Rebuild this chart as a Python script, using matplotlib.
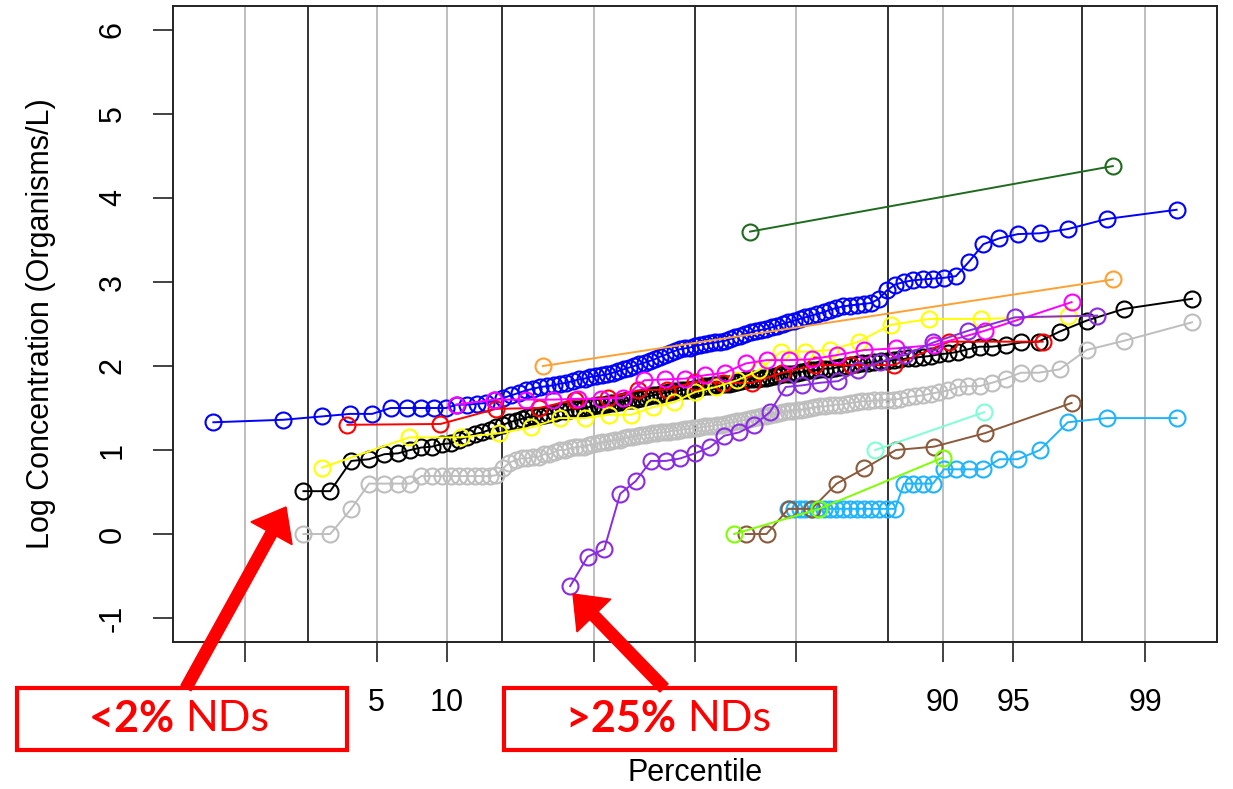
import numpy as np
import matplotlib.pyplot as plt
from matplotlib.patches import Rectangle, FancyArrow
from statistics import NormalDist

# Percentile plotting positions (%) and log10 concentrations
pct_122 = [2.15, 2.97, 3.78, 4.60, 5.42, 6.24, 7.06, 7.87, 8.69, 9.51,
           10.33, 11.15, 11.97, 12.78, 13.60, 14.42, 15.24, 16.06, 16.87, 17.69,
           18.51, 19.33, 20.14, 20.96, 21.78, 22.60, 23.42, 24.23, 25.05, 25.87,
           26.69, 27.51, 28.32, 29.14, 29.96, 30.78, 31.60, 32.41, 33.23, 34.05,
           34.87, 35.69, 36.50, 37.32, 38.14, 38.96, 39.78, 40.59, 41.41, 42.23,
           43.05, 43.87, 44.68, 45.50, 46.32, 47.14, 47.96, 48.77, 49.59, 50.41,
           51.23, 52.04, 52.86, 53.68, 54.50, 55.32, 56.13, 56.95, 57.77, 58.59,
           59.41, 60.22, 61.04, 61.86, 62.68, 63.50, 64.31, 65.13, 65.95, 66.77,
           67.59, 68.40, 69.22, 70.04, 70.86, 71.68, 72.49, 73.31, 74.13, 74.95,
           75.77, 76.58, 77.40, 78.22, 79.04, 79.86, 80.67, 81.49, 82.31, 83.13,
           83.94, 84.76, 85.58, 86.40, 87.22, 88.03, 88.85, 89.67, 90.49, 91.31,
           92.12, 92.94, 93.76, 94.58, 95.40, 96.21, 97.03, 97.85, 98.67, 99.49]

black_vals = [0.51, 0.51, 0.87, 0.89, 0.95, 0.96, 1.00, 1.03, 1.04, 1.07,
              1.08, 1.12, 1.16, 1.19, 1.21, 1.24, 1.27, 1.30, 1.33, 1.35,
              1.37, 1.39, 1.40, 1.41, 1.42, 1.43, 1.44, 1.46, 1.47, 1.48,
              1.49, 1.49, 1.50, 1.51, 1.52, 1.53, 1.54, 1.55, 1.56, 1.56,
              1.57, 1.58, 1.59, 1.60, 1.61, 1.62, 1.63, 1.64, 1.65, 1.66,
              1.67, 1.68, 1.69, 1.70, 1.70, 1.71, 1.72, 1.72, 1.73, 1.74,
              1.75, 1.76, 1.76, 1.77, 1.77, 1.78, 1.78, 1.79, 1.80, 1.81,
              1.82, 1.83, 1.84, 1.85, 1.85, 1.86, 1.86, 1.87, 1.88, 1.89,
              1.90, 1.91, 1.91, 1.92, 1.93, 1.94, 1.95, 1.95, 1.96, 1.97,
              1.97, 1.98, 1.99, 2.00, 2.01, 2.02, 2.03, 2.04, 2.05, 2.06,
              2.06, 2.07, 2.08, 2.09, 2.10, 2.11, 2.12, 2.14, 2.15, 2.17,
              2.20, 2.23, 2.23, 2.25, 2.28, 2.29, 2.41, 2.54, 2.68, 2.80]

gray_vals = [0.00, 0.00, 0.30, 0.60, 0.60, 0.60, 0.60, 0.69, 0.69, 0.69,
             0.69, 0.69, 0.69, 0.69, 0.69, 0.69, 0.70, 0.78, 0.85, 0.88,
             0.90, 0.90, 0.92, 0.92, 0.95, 0.95, 0.98, 1.00, 1.00, 1.02,
             1.03, 1.04, 1.04, 1.06, 1.07, 1.08, 1.09, 1.10, 1.11, 1.12,
             1.12, 1.14, 1.15, 1.16, 1.17, 1.18, 1.18, 1.19, 1.20, 1.20,
             1.21, 1.21, 1.22, 1.23, 1.23, 1.24, 1.25, 1.25, 1.26, 1.26,
             1.27, 1.28, 1.28, 1.29, 1.30, 1.30, 1.31, 1.32, 1.33, 1.34,
             1.35, 1.36, 1.37, 1.38, 1.39, 1.40, 1.41, 1.42, 1.43, 1.44,
             1.45, 1.46, 1.47, 1.48, 1.48, 1.49, 1.50, 1.51, 1.52, 1.52,
             1.53, 1.54, 1.54, 1.55, 1.56, 1.57, 1.58, 1.58, 1.59, 1.59,
             1.60, 1.60, 1.61, 1.63, 1.64, 1.65, 1.67, 1.69, 1.71, 1.75,
             1.76, 1.76, 1.80, 1.85, 1.92, 1.92, 1.96, 2.19, 2.30, 2.52]

blue_pct = [0.64, 1.67, 2.70, 3.73, 4.76, 5.78, 6.81, 7.84, 8.87, 9.90,
            10.93, 11.95, 12.98, 14.01, 15.04, 16.07, 17.10, 18.12, 19.15, 20.18,
            21.21, 22.24, 23.26, 24.29, 25.32, 26.35, 27.38, 28.41, 29.43, 30.46,
            31.49, 32.52, 33.55, 34.58, 35.60, 36.63, 37.66, 38.69, 39.72, 40.75,
            41.77, 42.80, 43.83, 44.86, 45.89, 46.92, 47.94, 48.97, 50.00, 51.03,
            52.06, 53.08, 54.11, 55.14, 56.17, 57.20, 58.23, 59.25, 60.28, 61.31,
            62.34, 63.37, 64.40, 65.42, 66.45, 67.48, 68.51, 69.54, 70.57, 71.59,
            72.62, 73.65, 74.68, 75.71, 76.74, 77.76, 78.79, 79.82, 80.85, 81.88,
            82.90, 83.93, 84.96, 85.99, 87.02, 88.05, 89.07, 90.10, 91.13, 92.16,
            93.19, 94.22, 95.24, 96.27, 97.30, 98.33, 99.36]

blue_vals = [1.33, 1.36, 1.40, 1.43, 1.43, 1.50, 1.50, 1.50, 1.50, 1.50,
             1.54, 1.54, 1.55, 1.56, 1.59, 1.62, 1.65, 1.68, 1.71, 1.73,
             1.75, 1.76, 1.77, 1.79, 1.80, 1.82, 1.84, 1.85, 1.87, 1.88,
             1.89, 1.90, 1.92, 1.94, 1.96, 1.98, 2.00, 2.02, 2.04, 2.06,
             2.08, 2.11, 2.13, 2.16, 2.18, 2.20, 2.21, 2.22, 2.24, 2.25,
             2.26, 2.27, 2.28, 2.29, 2.30, 2.32, 2.34, 2.36, 2.38, 2.40,
             2.42, 2.43, 2.44, 2.46, 2.48, 2.50, 2.52, 2.54, 2.56, 2.58,
             2.60, 2.62, 2.64, 2.67, 2.69, 2.71, 2.72, 2.73, 2.74, 2.75,
             2.80, 2.90, 2.97, 3.00, 3.02, 3.03, 3.04, 3.05, 3.07, 3.24,
             3.45, 3.52, 3.57, 3.58, 3.63, 3.75, 3.86]

# cyan sample shares the blue sample's plotting positions (upper ranks only)
cyan_pct = blue_pct[66:]
cyan_vals = [0.30] * 17 + [0.60] * 4 + [0.77] * 4 + [0.89, 0.89, 1.00, 1.33, 1.38, 1.38]

red_pct = [3.62, 9.42, 15.22, 21.01, 26.81, 32.61, 38.41, 44.20, 50.00,
           55.80, 61.59, 67.39, 73.19, 78.99, 84.78, 90.58, 96.38]
red_vals = [1.30, 1.31, 1.49, 1.50, 1.60, 1.62, 1.71, 1.72, 1.81,
            1.80, 1.80, 1.92, 2.01, 2.01, 2.01, 2.29, 2.29]

yellow_pct = [2.69, 6.99, 11.29, 15.59, 19.89, 24.19, 28.49, 32.80, 37.10, 41.40,
              45.70, 50.00, 54.30, 58.60, 62.90, 67.20, 71.51, 75.81, 80.11, 84.41,
              88.71, 93.01, 97.31]
yellow_vals = [0.79, 1.15, 1.15, 1.20, 1.27, 1.38, 1.38, 1.42, 1.42, 1.51,
               1.57, 1.69, 1.75, 1.83, 1.95, 2.17, 2.17, 2.19, 2.29, 2.49,
               2.56, 2.56, 2.59]

magenta_pct = [10.82, 14.95, 19.07, 23.20, 27.32, 31.44, 35.57, 39.69, 43.81, 47.94,
               52.06, 56.19, 60.31, 64.43, 68.56, 72.68, 76.80, 80.93, 85.05, 89.18,
               93.30, 97.42]
magenta_vals = [1.54, 1.60, 1.60, 1.60, 1.61, 1.61, 1.62, 1.83, 1.84, 1.85,
                1.89, 1.92, 2.03, 2.07, 2.07, 2.08, 2.13, 2.19, 2.21, 2.25,
                2.42, 2.76]

brown_pct = magenta_pct[12:]
brown_vals = [0.00, 0.00, 0.30, 0.30, 0.60, 0.78, 1.00, 1.04, 1.20, 1.56]

purple_pct = [25.94, 28.95, 31.95, 34.96, 37.97, 40.98, 43.98, 46.99, 50.00, 53.01,
              56.02, 59.02, 62.03, 65.04, 68.05, 71.05, 74.06, 77.07, 80.08, 83.08,
              86.09, 89.10, 92.11, 95.11, 98.12]
purple_vals = [-0.62, -0.27, -0.18, 0.48, 0.63, 0.87, 0.87, 0.90, 0.96, 1.03,
               1.17, 1.21, 1.30, 1.45, 1.75, 1.77, 1.80, 1.82, 1.95, 2.05,
               2.13, 2.28, 2.42, 2.58, 2.60]

orange_pct = [21.6, 98.46]
orange_vals = [2.00, 3.03]
darkgreen_pct = [61.2, 98.46]
darkgreen_vals = [3.60, 4.38]
chartreuse_pct = [58.0, 74.0, 90.0]
chartreuse_vals = [0.00, 0.30, 0.91]
aqua_pct = [82.43, 93.24]
aqua_vals = [1.00, 1.45]

tick_pct = [1, 5, 10, 30, 50, 70, 90, 95, 99]
tick_text = ['', '5', '10', '', '', '', '90', '95', '99']
grid_pct = [1, 5, 10, 30, 70, 90, 95, 99]
sd_z = [-2, -1, 0, 1, 2]

_nd = NormalDist()
_probit = np.vectorize(lambda p: _nd.inv_cdf(p / 100.0), otypes=[float])
_cdf = np.vectorize(lambda z: _nd.cdf(z) * 100.0, otypes=[float])


def pct_to_z(p):
    return _probit(np.clip(np.asarray(p, dtype=float), 1e-6, 100 - 1e-6))


def z_to_pct(z):
    return _cdf(np.asarray(z, dtype=float))


plt.rcParams['font.family'] = ['Liberation Sans', 'DejaVu Sans']

fig = plt.figure(figsize=(12.33, 7.89), dpi=100)
ax = fig.add_axes([0.1403, 0.1869, 0.8467, 0.8049])
ax.set_xscale('function', functions=(pct_to_z, z_to_pct))
ax.set_xlim(float(z_to_pct(-2.698)), float(z_to_pct(2.698)))
ax.set_ylim(-1.28, 6.28)

for p in grid_pct:
    ax.axvline(p, color='#bebebe', lw=1.4, zorder=1)
for z in sd_z:
    ax.axvline(float(z_to_pct(z)), color='#222222', lw=1.3, zorder=1)

series = [
    (gray_vals, pct_122, '#bebebe'),
    (black_vals, pct_122, 'black'),
    (blue_vals, blue_pct, '#0000ff'),
    (red_vals, red_pct, '#ff0000'),
    (yellow_vals, yellow_pct, '#ffff00'),
    (magenta_vals, magenta_pct, '#ff00ff'),
    (purple_vals, purple_pct, '#8a2be2'),
    (orange_vals, orange_pct, '#ffa033'),
    (darkgreen_vals, darkgreen_pct, '#1e6b1e'),
    (cyan_vals, cyan_pct, '#1eb4ff'),
    (brown_vals, brown_pct, '#8b5a3c'),
    (chartreuse_vals, chartreuse_pct, '#7fff00'),
    (aqua_vals, aqua_pct, '#7fffd4'),
]
for vals, pct, col in series:
    ax.plot(pct, vals, '-o', color=col, mfc='none', mec=col, ms=11.5, mew=1.5,
            lw=1.4, zorder=3)

ax.set_xticks(tick_pct)
ax.set_xticklabels(tick_text)
ax.xaxis.set_minor_locator(plt.NullLocator())
ax.set_yticks(range(-1, 7))
ax.set_yticklabels([str(v) for v in range(-1, 7)], rotation=90, va='center')
ax.tick_params(axis='both', length=14.5, width=1.2, labelsize=22, color='#222222')
ax.tick_params(axis='x', pad=19)
ax.tick_params(axis='y', pad=18)
for s in ax.spines.values():
    s.set_linewidth(1.4)
    s.set_color('#222222')

ax.set_xlabel('Percentile', fontsize=22)
ax.xaxis.set_label_coords(0.5, -0.207)
ax.xaxis.label.set_va('center')
ax.set_ylabel('Log Concentration (Organisms/L)', fontsize=22)
ax.yaxis.set_label_coords(-0.1264, 0.5)
ax.yaxis.label.set_va('center')

# callout boxes and arrows (figure pixel space)
H = 789


def box(x0, x1, y0, y1):
    fig.add_artist(Rectangle((x0 / 100, (H - y1) / 100), (x1 - x0) / 100, (y1 - y0) / 100,
                             transform=fig.dpi_scale_trans, facecolor='white',
                             edgecolor='#ff0000', lw=3, zorder=5))


def arrow(x0, y0, x1, y1):
    fig.add_artist(FancyArrow(x0 / 100, (H - y0) / 100, (x1 - x0) / 100, (y0 - y1) / 100,
                              width=0.115, head_width=0.47, head_length=0.30,
                              length_includes_head=True, color='#ff0000',
                              transform=fig.dpi_scale_trans, zorder=6))


box(17, 347, 688, 750)
box(504, 835, 688, 750)
arrow(186, 688, 286, 507)
arrow(664, 688, 573, 594)

for xs, y, bold, regular in [(185, 719, '<2%', 'NDs'), (687, 719, '>25%', 'NDs')]:
    fig.text(xs / 1233, 1 - y / H, bold + ' ', ha='right', va='center', fontsize=31,
             fontweight='bold', color='#ff0000', family=['Lato', 'DejaVu Sans'], zorder=7)
    fig.text(xs / 1233, 1 - y / H, regular, ha='left', va='center', fontsize=31,
             color='#ff0000', family=['Lato', 'DejaVu Sans'], zorder=7)

fig.savefig('out.png', dpi=100)
